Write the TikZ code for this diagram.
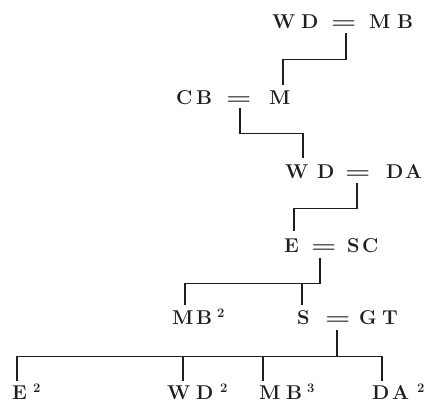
\documentclass[tikz,border=0pt]{standalone}
\usepackage{graphicx}
\tikzset{
  tok/.style={inner sep=0pt, anchor=base west, text=ink, font=\fontsize{20}{20}\selectfont\bfseries},
  supx/.style={inner sep=0pt, anchor=base west, text=ink, font=\fontsize{13}{13}\selectfont\bfseries},
  link/.style={draw=ink, line width=1.4pt},
}
\colorlet{ink}{black!88}
\newcommand{\eqsign}{\scalebox{1.45}[1]{=}}
\begin{document}
\begin{tikzpicture}[x=1pt,y=-1pt]
\useasboundingbox[fill=white] (0,0) rectangle (427,405);
% row 1
\node[tok] (r1w) at (272,28) {W};
\node[tok] (r1d) at (301,28) {D};
\node[tok] (r1eq) at (331,28) {\eqsign};
\node[tok] (r1m) at (369,28) {M};
\node[tok] (r1b) at (397,28) {B};
% row 2
\node[tok] (r2c) at (176,104) {C};
\node[tok] (r2b) at (196,104) {B};
\node[tok] (r2eq) at (226,104) {\eqsign};
\node[tok] (r2m) at (269,104) {M};
% row 3
\node[tok] (r3w) at (285,178) {W};
\node[tok] (r3d) at (317,178) {D};
\node[tok] (r3eq) at (345,178) {\eqsign};
\node[tok] (r3dd) at (386,178) {D};
\node[tok] (r3a) at (405,178) {A};
% row 4
\node[tok] (r4e) at (284,252) {E};
\node[tok] (r4eq) at (311,252) {\eqsign};
\node[tok] (r4s) at (347,252) {S};
\node[tok] (r4c) at (362,252) {C};
% row 5
\node[tok] (r5m) at (172,324) {M};
\node[tok] (r5b) at (196,324) {B};
\node[supx] (r5bs) at (217,317) {2};
\node[tok] (r5s) at (297,324) {S};
\node[tok] (r5eq) at (325,324) {\eqsign};
\node[tok] (r5g) at (359,324) {G};
\node[tok] (r5t) at (382,324) {T};
% row 6
\node[tok] (r6e) at (12,399) {E};
\node[supx] (r6es) at (33,392) {2};
\node[tok] (r6w) at (167,399) {W};
\node[tok] (r6d) at (196,399) {D};
\node[supx] (r6ds) at (220,392) {2};
\node[tok] (r6m) at (259,399) {M};
\node[tok] (r6b) at (286,399) {B};
\node[supx] (r6bs) at (307,392) {3};
\node[tok] (r6dd) at (372,399) {D};
\node[tok] (r6a) at (392,399) {A};
\node[supx] (r6as) at (417,392) {2};
% connectors
\draw[link] ([xshift=2pt,yshift=-5pt]r1eq.south) -- ++(0,26) -| ([xshift=14pt,yshift=5pt]r2m.north west);
\draw[link] ([xshift=1pt,yshift=-4pt]r2eq.south) -- ++(0,25) -| ([xshift=18pt,yshift=6pt]r3w.north west);
\draw[link] ([xshift=-1pt,yshift=-5pt]r3eq.south) -- ++(0,25) -| ([xshift=10pt,yshift=7pt]r4e.north west);
\draw[link] ([xshift=-4pt,yshift=-6pt]r4eq.south) -- ++(0,25) coordinate (j4) -| ([xshift=13pt,yshift=5pt]r5m.north west);
\coordinate (s5t) at ([xshift=5pt,yshift=5pt]r5s.north west);
\draw[link] (s5t) -- (s5t |- j4);
\draw[link] ([xshift=-1pt,yshift=-6pt]r5eq.south) -- ++(0,26) coordinate (j5);
\draw[link] ([xshift=5pt,yshift=4pt]r6e.north west) |- (j5) -| ([xshift=10pt,yshift=4pt]r6dd.north west);
\coordinate (w6t) at ([xshift=16pt,yshift=4pt]r6w.north west);
\draw[link] (w6t) -- (w6t |- j5);
\coordinate (m6t) at ([xshift=4pt,yshift=4pt]r6m.north west);
\draw[link] (m6t) -- (m6t |- j5);
\end{tikzpicture}
\end{document}
